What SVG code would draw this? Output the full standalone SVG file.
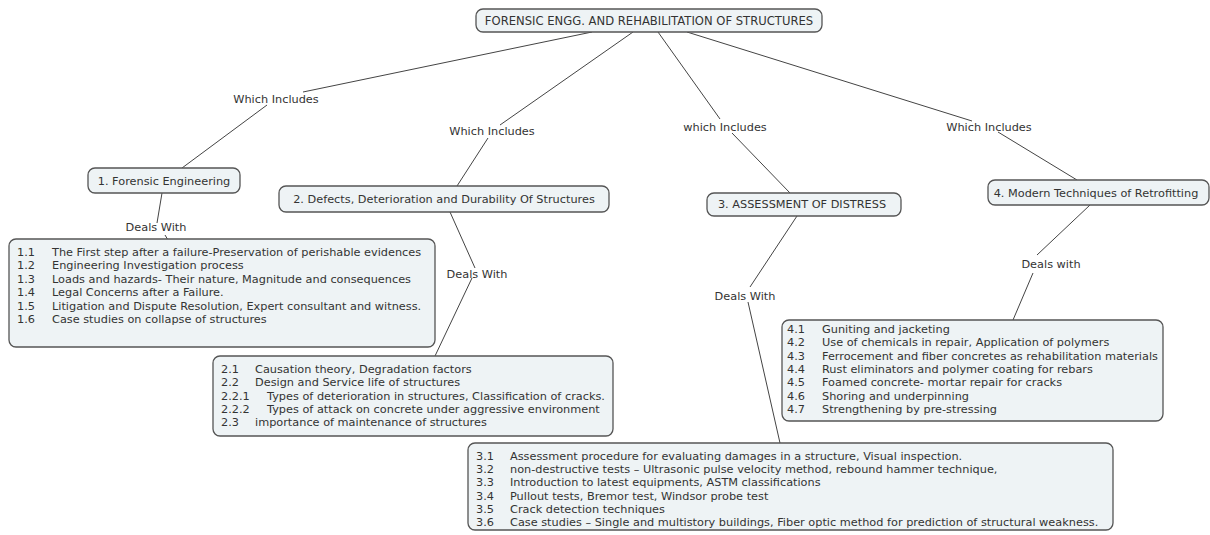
<svg xmlns="http://www.w3.org/2000/svg" width="1210" height="535" viewBox="0 0 1210 535">
<style>
text{font-family:"DejaVu Sans",Verdana,sans-serif;font-size:11.3px;fill:#333}
.box{fill:#eef3f5;stroke:#555;stroke-width:1.3}
.c{text-anchor:middle}
.t{font-size:11.6px}
.con path{fill:none;stroke:#444;stroke-width:1}
</style>
<rect width="1210" height="535" fill="#fff"/>
<g class="con" id="connectors">
<path d="M592,32 L303,92 M267,105 L182,168"/>
<path d="M633,32 L500,125 M488,138 L457,186"/>
<path d="M658,32 L720,119 M732,133 L790,193"/>
<path d="M687,32 L972,121 M998,132 L1077,180"/>
<path d="M162,193 L157,223 M165,235 L168,240"/>
<path d="M450,212 L475,268 M472,278 L435,356"/>
<path d="M797,216 L750,287 M748,302 L780,443"/>
<path d="M1090,205 L1037,255 M1033,273 L1013,320"/>
<text class="c" x="276" y="103">Which Includes</text>
<text class="c" x="492" y="135">Which Includes</text>
<text class="c" x="725" y="131">which Includes</text>
<text class="c" x="989" y="131">Which Includes</text>
<text class="c" x="156" y="231">Deals With</text>
<text class="c" x="477" y="278">Deals With</text>
<text class="c" x="745" y="300">Deals With</text>
<text class="c" x="1051" y="268">Deals with</text>
</g>
<g id="root">
<rect class="box" x="476" y="9" width="346" height="23" rx="7"/>
<text class="c t" x="649" y="25">FORENSIC ENGG. AND REHABILITATION OF STRUCTURES</text>
</g>
<g id="n1">
<rect class="box" x="88" y="168" width="152" height="25" rx="7"/>
<text class="c" x="164" y="185">1. Forensic Engineering</text>
</g>
<g id="n2">
<rect class="box" x="279" y="186" width="330" height="26" rx="7"/>
<text class="c" x="444" y="203">2. Defects, Deterioration and Durability Of Structures</text>
</g>
<g id="n3">
<rect class="box" x="707" y="193" width="194" height="23" rx="7"/>
<text class="c" x="802" y="208">3. ASSESSMENT OF DISTRESS</text>
</g>
<g id="n4">
<rect class="box" x="988" y="180" width="221" height="25" rx="7"/>
<text class="c" x="1096" y="197">4. Modern Techniques of Retrofitting</text>
</g>
<g id="d1">
<rect class="box" x="9" y="239" width="426" height="108" rx="7"/>
<text x="17" y="256">1.1</text><text x="52" y="256">The First step after a failure-Preservation of perishable evidences</text>
<text x="17" y="269">1.2</text><text x="52" y="269">Engineering Investigation process</text>
<text x="17" y="283">1.3</text><text x="52" y="283">Loads and hazards- Their nature, Magnitude and consequences</text>
<text x="17" y="296">1.4</text><text x="52" y="296">Legal Concerns after a Failure.</text>
<text x="17" y="310">1.5</text><text x="52" y="310">Litigation and Dispute Resolution, Expert consultant and witness.</text>
<text x="17" y="323">1.6</text><text x="52" y="323">Case studies on collapse of structures</text>
</g>
<g id="d2">
<rect class="box" x="213" y="356" width="400" height="80" rx="7"/>
<text x="221" y="373">2.1</text><text x="255" y="373">Causation theory, Degradation factors</text>
<text x="221" y="386">2.2</text><text x="255" y="386">Design and Service life of structures</text>
<text x="221" y="400">2.2.1</text><text x="267" y="400">Types of deterioration in structures, Classification of cracks.</text>
<text x="221" y="413">2.2.2</text><text x="267" y="413">Types of attack on concrete under aggressive environment</text>
<text x="221" y="426">2.3</text><text x="255" y="426">importance of maintenance of structures</text>
</g>
<g id="d3">
<rect class="box" x="468" y="443" width="645" height="87" rx="7"/>
<text x="476" y="460">3.1</text><text x="510" y="460">Assessment procedure for evaluating damages in a structure, Visual inspection.</text>
<text x="476" y="473">3.2</text><text x="510" y="473">non-destructive tests – Ultrasonic pulse velocity method, rebound hammer technique,</text>
<text x="476" y="486">3.3</text><text x="510" y="486">Introduction to latest equipments, ASTM classifications</text>
<text x="476" y="500">3.4</text><text x="510" y="500">Pullout tests, Bremor test, Windsor probe test</text>
<text x="476" y="513">3.5</text><text x="510" y="513">Crack detection techniques</text>
<text x="476" y="526">3.6</text><text x="510" y="526">Case studies – Single and multistory buildings, Fiber optic method for prediction of structural weakness.</text>
</g>
<g id="d4">
<rect class="box" x="782" y="320" width="381" height="101" rx="7"/>
<text x="787" y="333">4.1</text><text x="822" y="333">Guniting and jacketing</text>
<text x="787" y="346">4.2</text><text x="822" y="346">Use of chemicals in repair, Application of polymers</text>
<text x="787" y="360">4.3</text><text x="822" y="360">Ferrocement and fiber concretes as rehabilitation materials</text>
<text x="787" y="373">4.4</text><text x="822" y="373">Rust eliminators and polymer coating for rebars</text>
<text x="787" y="386">4.5</text><text x="822" y="386">Foamed concrete- mortar repair for cracks</text>
<text x="787" y="400">4.6</text><text x="822" y="400">Shoring and underpinning</text>
<text x="787" y="413">4.7</text><text x="822" y="413">Strengthening by pre-stressing</text>
</g>
</svg>
